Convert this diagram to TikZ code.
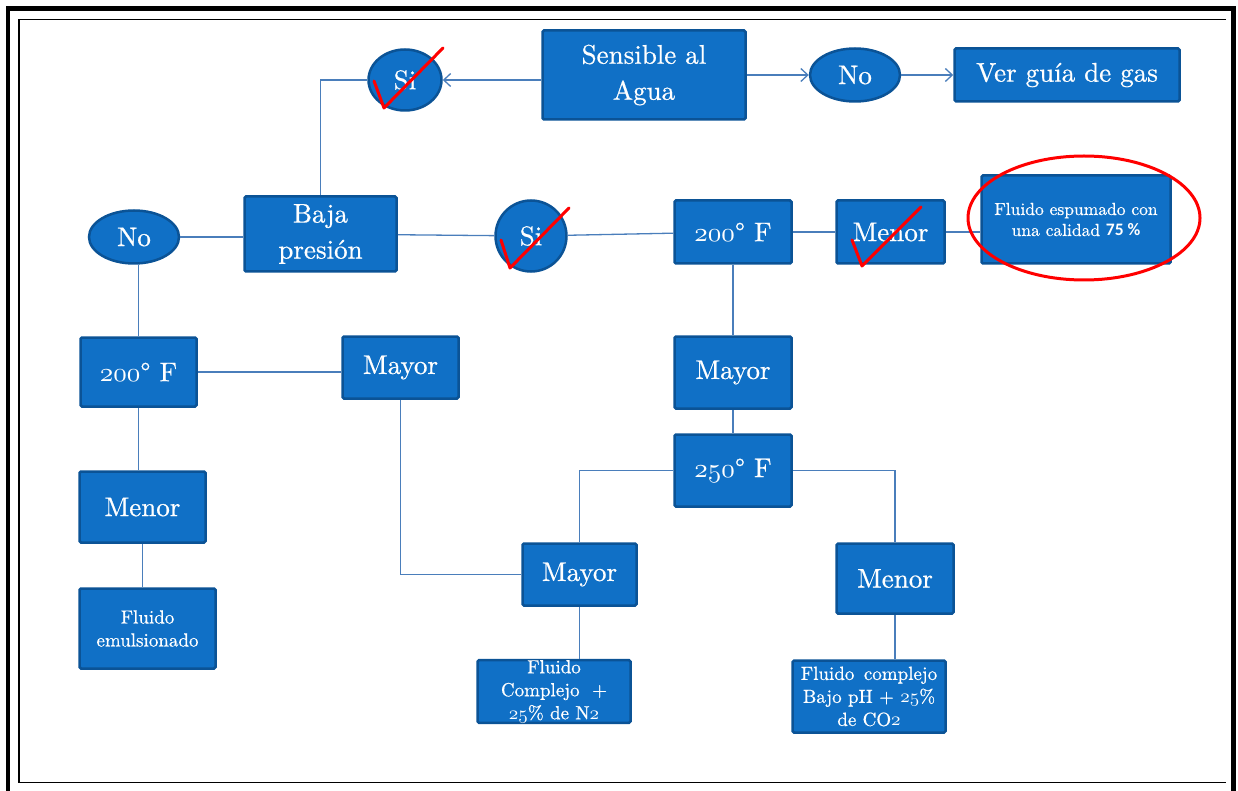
\documentclass[tikz,border=0pt]{standalone}
\usepackage{fontspec}
\newfontfamily\letra{lmroman10-regular.otf}[FakeBold=0.6]
\newfontfamily\calibri{Carlito}
\DeclareFontShape{OML}{cmm}{m}{it}{<->cmmi10}{}
\usetikzlibrary{shapes.geometric,calc,arrows.meta}
\definecolor{boxblue}{HTML}{1070C6}
\definecolor{boxedge}{HTML}{0B5396}
\definecolor{linkblue}{HTML}{4A7EBB}
\newcommand{\osn}[1]{\ensuremath{\mathnormal{#1}}}

\begin{document}
\begin{tikzpicture}[x=1pt,y=-1pt,
    caja/.style={draw=boxedge, line width=2.5pt, fill=boxblue, rounded corners=1.5pt, text=white,
      align=center, inner sep=0pt, font=\letra\fontsize{27}{36}\selectfont},
    elipse/.style={caja, ellipse},
    chica/.style={font=\letra\fontsize{19}{23}\selectfont},
    enlace/.style={linkblue, line width=1.3pt},
    flecha/.style={enlace, -{Straight Barb[length=7pt,width=13pt]}},
    visto/.style={red, line width=3pt, line cap=round, line join=round}]
    \useasboundingbox (0,0) rectangle (1238,791);
    \begin{scope}
    \clip (0,0) rectangle (1238,791);
    \draw[line width=4.5pt] (8,800) |- (1233.5,8.5) -- (1233.5,800);
    \draw[line width=1.8pt] (1226,19.5) -| (19,782.5) -- (1226,782.5);
    \end{scope}

    \node[caja, minimum width=203, minimum height=89] (sens) at (644,75) {Sensible al\\Agua};
    \node[elipse, minimum width=73, minimum height=61] (siA) at (405,80) {Si};
    \node[elipse, minimum width=90, minimum height=53] (noA) at (855,75) {No};
    \node[caja, minimum width=225, minimum height=53] (gas) at (1067,75) {Ver guía de gas};
    \node[caja, minimum width=152, minimum height=75] (baja) at (320.5,234) {Baja\\presión};
    \node[elipse, minimum width=90, minimum height=53] (noB) at (134,237) {No};
    \node[elipse, minimum width=71, minimum height=71] (siB) at (531,236) {Si};
    \node[caja, minimum width=117, minimum height=63] (tempA) at (733,232) {\osn{200}° F};
    \node[caja, minimum width=108, minimum height=63] (menorA) at (890.5,232) {Menor};
    \node[caja, minimum width=189, minimum height=88, font=\letra\fontsize{17.5}{21}\selectfont] (espuma) at (1076,219.5)
      {Fluido espumado con\\una calidad {\calibri\bfseries 75 \%}};
    \node[caja, minimum width=116, minimum height=69] (tempB) at (138.5,372) {\osn{200}° F};
    \node[caja, minimum width=116, minimum height=62] (mayorA) at (400.5,367.5) {Mayor};
    \node[caja, minimum width=126, minimum height=71] (menorB) at (142.5,507) {Menor};
    \node[caja, chica, minimum width=136, minimum height=80] (emul) at (147.5,628.5) {Fluido\\emulsionado};
    \node[caja, minimum width=117, minimum height=72] (mayorB) at (733,372.5) {Mayor};
    \node[caja, minimum width=117, minimum height=72] (tempC) at (733,470.5) {\osn{250}° F};
    \node[caja, minimum width=114, minimum height=62] (mayorC) at (579.5,574.5) {Mayor};
    \node[caja, minimum width=117, minimum height=70] (menorC) at (895,578.5) {Menor};
    \node[caja, chica, minimum width=153, minimum height=62] (nitro) at (554,691.5)
      {Fluido\\Complejo\ \ +\\\osn{25}\% de N\osn{2}};
    \node[caja, chica, minimum width=153, minimum height=72] (carbo) at (869,696.5)
      {Fluido\ \,complejo\\Bajo pH + \osn{25}\%\\de CO\osn{2}};

    \draw[flecha] (sens.west |- siA) -- (siA);
    \draw[flecha] (sens) -- (noA);
    \draw[flecha] (noA) -- (gas);
    \draw[enlace] (siA.west) -| (baja.north);
    \draw[enlace] (noB.east) -- (noB.east -| baja.west);
    \draw[enlace] (baja) -- (siB);
    \draw[enlace] (siB) -- (tempA);
    \draw[enlace] (tempA) -- (menorA);
    \draw[enlace] (menorA.east) -- (menorA.east -| espuma.west);
    \draw[enlace] (tempB.north) -- (tempB.north |- noB.south);
    \draw[enlace] (tempB.east) -- (tempB.east -| mayorA.west);
    \draw[enlace] (tempB.south) -- (tempB.south |- menorB.north);
    \draw[enlace] (menorB.south) -- (menorB.south |- emul.north);
    \draw[enlace] (mayorA.south) |- (mayorC.west);
    \draw[enlace] (tempA.south) -- (mayorB.north);
    \draw[enlace] (mayorB.south) -- (tempC.north);
    \draw[enlace] (tempC.west) -| (mayorC.north);
    \draw[enlace] (tempC.east) -| (menorC.north);
    \draw[enlace] (mayorC.south) -- (mayorC.south |- nitro.north);
    \draw[enlace] (menorC.south) -- (menorC.south |- carbo.north);

    \draw[visto] ($(siA)+(-31,1)$) -- ($(siA)+(-21,28)$) -- ($(siA)+(38,-32)$);
    \draw[visto] ($(siB)+(-30,4)$) -- ($(siB)+(-21,32)$) -- ($(siB)+(38,-28)$);
    \draw[visto] ($(menorA)+(-38.5,8)$) -- ($(menorA)+(-28.5,34)$) -- ($(menorA)+(30.5,-25)$);
    \draw[red, line width=3pt] (1084,218) ellipse [x radius=116, y radius=62];
\end{tikzpicture}
\end{document}
